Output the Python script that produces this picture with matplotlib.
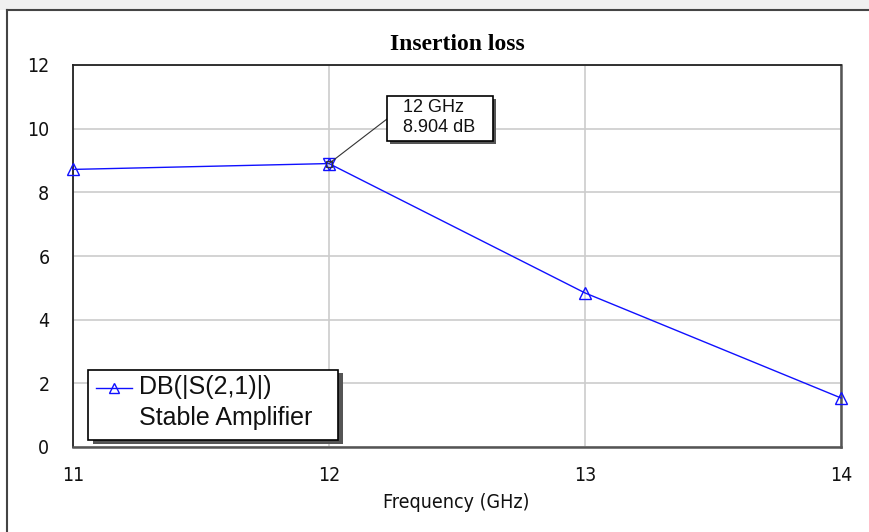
import matplotlib
matplotlib.use("Agg")
import matplotlib.pyplot as plt
from matplotlib.patches import Rectangle

freq = [11, 12, 13, 14]
s21_db = [8.72, 8.904, 4.84, 1.54]
xticks = [11, 12, 13, 14]
yticks = [0, 2, 4, 6, 8, 10, 12]
title = "Insertion loss"
xlabel = "Frequency (GHz)"
legend_lines = ["DB(|S(2,1)|)", "Stable Amplifier"]
marker_freq = 12
marker_val = 8.904

W, H = 870, 532
fig = plt.figure(figsize=(W / 100, H / 100), dpi=100)
fig.patch.set_facecolor("white")

sans2 = ["Liberation Sans", "DejaVu Sans"]
tf = fig.transFigure


def fx(px):
    return px / W


def fy(py):
    return 1 - py / H


# outer frame and grey strip
fig.add_artist(Rectangle((0, fy(10)), 1, 10 / H, transform=tf,
                         facecolor="#f0f0f0", edgecolor="none", zorder=0))
fig.add_artist(plt.Line2D([fx(7), fx(7)], [0, fy(10)], transform=tf,
                          color="#444444", lw=1.5))
fig.add_artist(plt.Line2D([fx(7), 1], [fy(10), fy(10)], transform=tf,
                          color="#444444", lw=1.5))

ax = fig.add_axes([fx(73), fy(447), (841 - 73) / W, (447 - 65) / H])
ax.set_xlim(11, 14)
ax.set_ylim(0, 12)
ax.set_xticks(xticks)
ax.set_yticks(yticks)
ax.grid(True, color="#cccccc", lw=1.2)
ax.set_axisbelow(True)
ax.tick_params(length=0, labelsize=14, colors="#111111")
for lab in ax.get_xticklabels() + ax.get_yticklabels():
    lab.set_family("DejaVu Sans")
    lab.set_stretch("condensed")
ax.tick_params(axis="x", pad=14)
ax.tick_params(axis="y", pad=17)
for s in ["left", "top"]:
    ax.spines[s].set_color("#222222")
    ax.spines[s].set_linewidth(1.3)
for s in ["right", "bottom"]:
    ax.spines[s].set_color("#555555")
    ax.spines[s].set_linewidth(1.8)

ax.plot(freq, s21_db, color="#1010ff", lw=1.0, marker="^", ms=9,
        mfc="none", mec="#1010ff", mew=1.0, clip_on=False, zorder=3)
# marker highlight at 12 GHz
ax.plot([marker_freq], [marker_val], marker="v", ms=9, mfc="none",
        mec="#1010ff", mew=1.0, zorder=4)
ax.plot([marker_freq], [marker_val], marker="s", ms=4, mfc="none",
        mec="#333333", mew=0.8, zorder=4)

fig.text(fx(457), fy(45), title, ha="center", va="center",
         family=["Liberation Serif", "DejaVu Serif"], weight="bold", fontsize=17)
fig.text(fx(456), fy(503), xlabel, ha="center", va="center",
         family="DejaVu Sans", stretch="condensed", fontsize=14, color="#111111")

# annotation: leader line, shadow, box, text
ax.annotate("", xy=(marker_freq, marker_val), xycoords="data",
            xytext=(fx(387), fy(119)), textcoords="figure fraction",
            arrowprops=dict(arrowstyle="-", color="#333333", lw=0.8,
                            shrinkA=0, shrinkB=0), zorder=5)
fig.add_artist(Rectangle((fx(390), fy(144)), (496 - 390) / W, (144 - 99) / H,
                         transform=tf, facecolor="#555555",
                         edgecolor="none", zorder=5))
fig.add_artist(Rectangle((fx(387), fy(141)), (493 - 387) / W, (141 - 96) / H,
                         transform=tf, facecolor="white",
                         edgecolor="black", lw=1.2, zorder=6))
fig.text(fx(403), fy(108), f"{marker_freq} GHz", ha="left", va="center",
         family=sans2, fontsize=13, color="#111111", zorder=7)
fig.text(fx(403), fy(128), f"{marker_val:.3f} dB", ha="left", va="center",
         family=sans2, fontsize=13, color="#111111", zorder=7)

# legend box with shadow
fig.add_artist(Rectangle((fx(93), fy(444)), (343 - 93) / W, (444 - 373) / H,
                         transform=tf, facecolor="#555555",
                         edgecolor="none", zorder=5))
fig.add_artist(Rectangle((fx(88), fy(440)), (338 - 88) / W, (440 - 370) / H,
                         transform=tf, facecolor="white",
                         edgecolor="black", lw=1.2, zorder=6))
fig.add_artist(plt.Line2D([fx(96), fx(132)], [fy(388), fy(388)],
                          transform=tf, color="#1010ff", lw=1.0, zorder=7))
fig.add_artist(plt.Line2D([fx(114)], [fy(388)], transform=tf,
                          color="#1010ff", lw=0, marker="^", ms=7, mfc="none",
                          mec="#1010ff", zorder=7))
fig.text(fx(139), fy(387), legend_lines[0], ha="left", va="center",
         family=sans2, fontsize=18, color="#111111", zorder=7)
fig.text(fx(139), fy(418), legend_lines[1], ha="left", va="center",
         family=sans2, fontsize=18, color="#111111", zorder=7)

fig.savefig("out.png", dpi=100)
